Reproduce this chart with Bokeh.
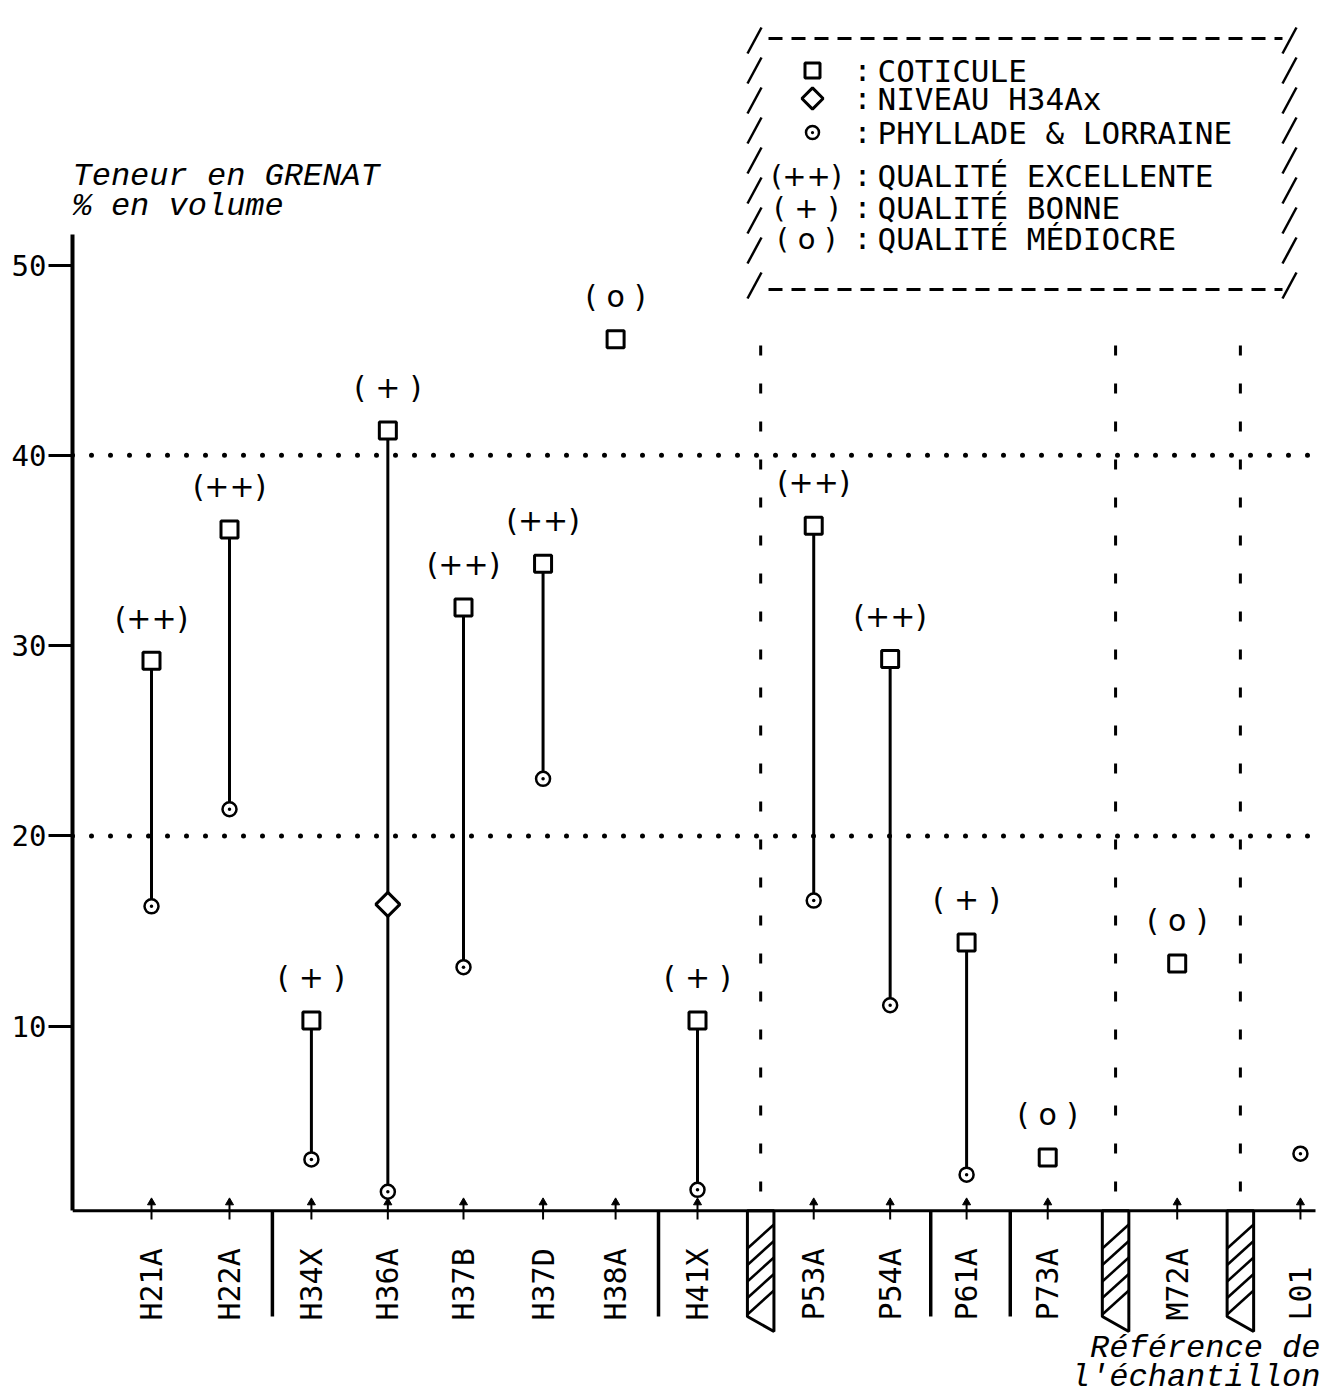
import math
import numpy as np
from bokeh.plotting import figure
from bokeh.models import Range1d, FixedTicker, Span
from bokeh.core.properties import value
from bokeh.embed import file_html
from bokeh.resources import INLINE

# ---------------- data ----------------
samples = ["H21A", "H22A", "H34X", "H36A", "H37B", "H37D", "H38A", "H41X",
           "P53A", "P54A", "P61A", "P73A", "M72A", "L01"]
sample_pos = [1.0, 2.0, 3.05, 4.03, 5.0, 6.02, 6.95, 8.0,
              9.49, 10.47, 11.45, 12.49, 14.15, 15.73]
coticule = [29.2, 36.1, 10.3, 41.3, 32.0, 34.3, 46.1, 10.3,
            36.3, 29.3, 14.4, 3.1, 13.3, None]
phyllade = [16.3, 21.4, 3.0, 1.3, 13.1, 23.0, None, 1.4,
            16.6, 11.1, 2.2, None, None, 3.3]
quality = ["++", "++", "+", "+", "++", "++", "o", "+",
           "++", "++", "+", "o", "o", ""]
niveau_sample = ["H36A"]
niveau_value = [16.4]
y_ticks = [10, 20, 30, 40, 50]
ref_levels = [20, 40]
group_breaks = [2.55, 7.5, 10.99, 12.01]
hatched_breaks = [8.81, 13.36, 14.96]

legend_symbols = ["COTICULE", "NIVEAU H34Ax", "PHYLLADE & LORRAINE"]
legend_quality = ["(++)", "( + )", "( o )"]
legend_quality_text = ["QUALITÉ EXCELLENTE", "QUALITÉ BONNE", "QUALITÉ MÉDIOCRE"]

# ---------------- layout helpers (page pixels -> data units) ----------------
X0_PAGE, XPX = 151.0, 78.0
Y0_PAGE, YPX = 1216.0, 19.03
W, H = 1322, 1395
LEFT = 72


def X(px):
    return (px - X0_PAGE) / XPX + 1


def Y(py):
    return (Y0_PAGE - py) / YPX


MONO = value("DejaVu Sans Mono")
SANS = value("DejaVu Sans")
TYPE = value("Liberation Mono")

p = figure(width=W, height=H, output_backend="svg", toolbar_location=None,
           x_range=Range1d(X(LEFT), X(W)), y_range=Range1d(Y(H), Y(0)),
           x_axis_location=None, min_border_left=LEFT, min_border_right=0,
           min_border_top=0, min_border_bottom=0)
p.outline_line_color = None
p.grid.visible = False
p.background_fill_color = "white"
p.border_fill_color = "white"

ax = p.yaxis[0]
ax.ticker = FixedTicker(ticks=y_ticks)
ax.bounds = (0.3, 51.6)
ax.axis_line_width = 4
ax.axis_line_color = "black"
ax.major_tick_line_width = 3
ax.major_tick_line_color = "black"
ax.major_tick_out = 24
ax.major_tick_in = 0
ax.minor_tick_line_color = None
ax.major_label_text_font = "DejaVu Sans Mono"
ax.major_label_text_font_size = "29px"
ax.major_label_text_color = "black"
ax.major_label_standoff = 2

# reference dotted levels
for lv in ref_levels:
    p.add_layout(Span(location=lv, dimension="width", line_color="black",
                      line_width=5, line_dash="0 19", line_cap="round"))

# x baseline
p.segment(x0=[X(LEFT)], y0=[0.3], x1=[X(1315)], y1=[0.3], line_color="black", line_width=3)

# vertical dashed separators
p.segment(x0=hatched_breaks, y0=[Y(345)] * 3, x1=hatched_breaks, y1=[Y(1202)] * 3,
          line_color="black", line_width=3, line_dash="10 28")

# sample ticks with arrow heads
p.segment(x0=sample_pos, y0=[Y(1219)] * len(samples), x1=sample_pos,
          y1=[Y(1201)] * len(samples), line_color="black", line_width=2)
p.scatter(x=sample_pos, y=[Y(1202)] * len(samples), marker="triangle", size=8,
          fill_color="black", line_color="black")

# group break bars below axis
p.segment(x0=group_breaks, y0=[0.3] * 4, x1=group_breaks, y1=[Y(1316)] * 4,
          line_color="black", line_width=3.5)

# hatched break boxes (outline + sparse diagonal hatching)
hw = 0.17
xs = [[c - hw, c + hw, c + hw, c - hw] for c in hatched_breaks]
ys = [[0.3, 0.3, Y(1331), Y(1316)] for _ in hatched_breaks]
p.patches(xs=xs, ys=ys, fill_color=None, line_color="black", line_width=3)
hx0, hx1, hy0, hy1 = [], [], [], []
for c in hatched_breaks:
    for k in range(5):
        top = 1224 + k * 16.5
        hx0.append(c - hw)
        hy0.append(Y(top + 24))
        hx1.append(c + hw)
        hy1.append(Y(top))
p.segment(x0=hx0, y0=hy0, x1=hx1, y1=hy1, line_color="black", line_width=2.5)

# stems
cot = np.array([np.nan if v is None else v for v in coticule])
phy = np.array([np.nan if v is None else v for v in phyllade])
pos = np.array(sample_pos)
both = ~np.isnan(cot) & ~np.isnan(phy)
p.segment(x0=pos[both], y0=phy[both], x1=pos[both], y1=cot[both],
          line_color="black", line_width=3)

# niveau diamond
niv_x = [sample_pos[samples.index(s)] for s in niveau_sample]
p.scatter(x=niv_x, y=niveau_value, marker="square", angle=math.pi / 4, size=17,
          fill_color="white", line_color="black", line_width=3)

# phyllade circles
mp = ~np.isnan(phy)
p.scatter(x=pos[mp], y=phy[mp], marker="circle_dot", size=14,
          fill_color="white", line_color="black", line_width=2.5)

# coticule squares
mc = ~np.isnan(cot)
p.scatter(x=pos[mc], y=cot[mc], marker="square", size=17,
          fill_color="white", line_color="black", line_width=3)

# quality labels
qlab = ["(++)" if q == "++" else "( %s )" % q for q in quality]
qx = [x for x, c, q in zip(sample_pos, coticule, quality) if c is not None and q]
qy = [c + 2.25 for c, q in zip(coticule, quality) if c is not None and q]
qt = [t for c, q, t in zip(coticule, quality, qlab) if c is not None and q]
p.text(x=qx, y=qy, text=qt, text_font=SANS, text_font_size="30px",
       text_align="center", text_baseline="middle", text_color="black")

# x category labels (vertical)
p.text(x=sample_pos, y=[Y(1320)] * len(samples), text=samples, angle=math.pi / 2,
       text_font=MONO, text_font_size="30px", text_align="left",
       text_baseline="middle", text_color="black")

# axis titles
p.text(x=[X(LEFT)] * 2, y=[Y(176), Y(206)], text=["Teneur en GRENAT", "% en volume"],
       text_font=TYPE, text_font_style="italic", text_font_size="32px",
       text_align="left", text_baseline="middle", text_color="black")
p.text(x=[X(1320), X(1320)], y=[Y(1348), Y(1377)],
       text=["Référence de", "l'échantillon"],
       text_font=TYPE, text_font_style="italic", text_font_size="32px",
       text_align="right", text_baseline="middle", text_color="black")

# ---------------- legend box ----------------
top_y, bot_y = Y(38), Y(289)
p.segment(x0=[X(768), X(768)], y0=[top_y, bot_y], x1=[X(1282), X(1282)], y1=[top_y, bot_y],
          line_color="black", line_width=3, line_dash="14 9")
slash_rows = [40, 70, 100, 130, 160, 190, 220, 250, 285]
for cx in (754, 1289):
    p.segment(x0=[X(cx - 7)] * len(slash_rows), y0=[Y(r + 13) for r in slash_rows],
              x1=[X(cx + 7)] * len(slash_rows), y1=[Y(r - 13) for r in slash_rows],
              line_color="black", line_width=2.5)

row_y = [Y(70), Y(98), Y(132), Y(175), Y(207), Y(238)]
sym_x = X(812)
p.scatter(x=[sym_x], y=[row_y[0]], marker="square", size=15, fill_color="white",
          line_color="black", line_width=3)
p.scatter(x=[sym_x], y=[row_y[1]], marker="square", angle=math.pi / 4, size=15,
          fill_color="white", line_color="black", line_width=3)
p.scatter(x=[sym_x], y=[row_y[2]], marker="circle_dot", size=13, fill_color="white",
          line_color="black", line_width=2.5)
p.text(x=[X(806)] * 3, y=row_y[3:], text=legend_quality, text_font=SANS,
       text_font_size="29px", text_align="center", text_baseline="middle",
       text_color="black")
p.text(x=[X(862)] * 6, y=row_y, text=[":"] * 6, text_font=MONO,
       text_font_size="30px", text_align="center", text_baseline="middle",
       text_color="black")
p.text(x=[X(877)] * 6, y=row_y, text=legend_symbols + legend_quality_text,
       text_font=MONO, text_font_size="31px", text_align="left",
       text_baseline="middle", text_color="black")

open("out.html", "w").write(file_html(p, INLINE))
